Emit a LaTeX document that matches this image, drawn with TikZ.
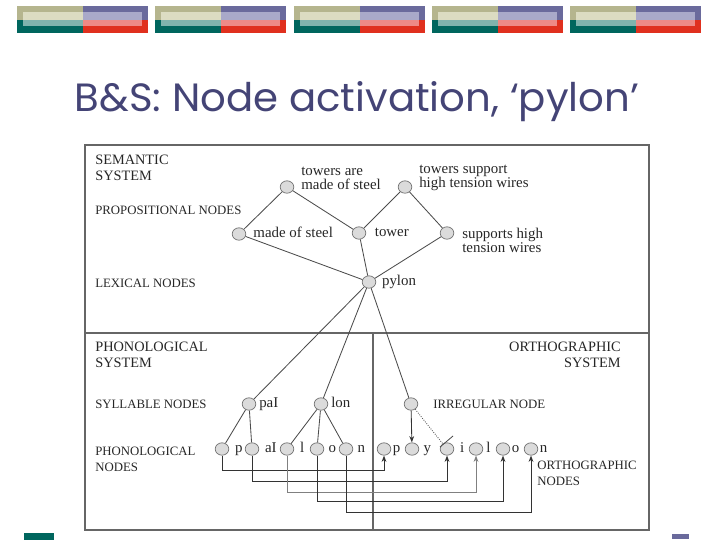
\documentclass[tikz,border=0pt]{standalone}
\usepackage{fontspec}
\setmainfont{Liberation Serif}
\newfontfamily\titlefont{Poppins}
\usepackage{tikz}
\usetikzlibrary{arrows.meta,shapes.geometric,positioning}
\definecolor{bnolive}{RGB}{181,181,142}
\definecolor{bncream}{RGB}{220,220,194}
\definecolor{bnteal}{RGB}{0,102,94}
\definecolor{bnlteal}{RGB}{128,179,173}
\definecolor{bnpurple}{RGB}{106,106,156}
\definecolor{bnlav}{RGB}{169,169,201}
\definecolor{bnred}{RGB}{224,48,30}
\definecolor{bnsalmon}{RGB}{238,138,134}
\definecolor{ttlblue}{RGB}{68,68,118}
\tikzset{
  pnode/.style={ellipse,draw=black!55,fill=black!14,line width=0.5pt,
    minimum width=0.34cm,minimum height=0.31cm,inner sep=0pt},
  labbase/.style={font=\fontsize{10.6}{10}\selectfont,anchor=west,inner sep=0pt,text=black!85},
  plab/.style={labbase,align=left},
  letlab/.style={labbase,text height=1.45ex,text depth=0.45ex},
  caplab/.style={font=\fontsize{9.1}{11.4}\selectfont,anchor=west,align=left,inner sep=0pt,text=black!85},
  syslab/.style={caplab,font=\fontsize{10.2}{11.4}\selectfont},
  link/.style={draw=black!70,line width=0.6pt},
  route/.style={draw=black!80,line width=0.6pt,-{Stealth[length=1.6mm,width=1.2mm]}},
  boxline/.style={draw=black!60,line width=0.8pt}}
\newcommand{\bnblock}[1]{%
  \fill[bnolive] (#1,6) rectangle ++(66,13.5);
  \fill[bnteal] (#1,19.5) rectangle ++(66,13.5);
  \fill[bnpurple] ({#1+66},6) rectangle ++(65,13.5);
  \fill[bnred] ({#1+66},19.5) rectangle ++(65,13.5);
  \fill[bncream] ({#1+6},12) rectangle ({#1+66},19.5);
  \fill[bnlteal] ({#1+6},19.5) rectangle ({#1+66},26);
  \fill[bnlav] ({#1+66},12) rectangle ({#1+125},19.5);
  \fill[bnsalmon] ({#1+66},19.5) rectangle ({#1+125},26);}
\begin{document}
\begin{tikzpicture}[x=0.025cm,y=-0.025cm]
  \useasboundingbox (0,0) rectangle (720,540);
  \foreach \bx in {17,155,294,432,570}{\bnblock{\bx}}
  \fill[bnteal] (24,533) rectangle (54,540);
  \fill[bnpurple] (672,534) rectangle (689,539);
  \node[anchor=base,inner sep=0pt,text=ttlblue] (title) at (357,111)
    {\resizebox{14.1cm}{0.75cm}{\titlefont B\&S: Node activation, ‘pylon’}};

  \draw[boxline] (85,145) rectangle (649,530);
  \draw[boxline] (85,333) -- (649,333);
  \draw[boxline] (373,333) -- (373,530);

  \node[syslab] (semsys) at (95,168) {SEMANTIC\\SYSTEM};
  \node[caplab] (propn) at (95,210) {PROPOSITIONAL NODES};
  \node[caplab] (lexn) at (95,283) {LEXICAL NODES};
  \node[syslab] (phonsys) at (95,355) {PHONOLOGICAL\\SYSTEM};
  \node[caplab] (sylln) at (95,404) {SYLLABLE NODES};
  \node[caplab] (phonn) at (95,459) {PHONOLOGICAL\\NODES};
  \node[syslab,anchor=east,align=right] (orthsys) at (621,355) {ORTHOGRAPHIC\\SYSTEM};
  \node[caplab] (orthn) at (537,473) {ORTHOGRAPHIC\\NODES};

  \node[pnode] (tmade) at (287,187) {};
  \node[pnode] (tsupp) at (405,187) {};
  \node[pnode] (mos) at (239,234) {};
  \node[pnode] (tower) at (359,233) {};
  \node[pnode] (supp) at (447,233) {};
  \node[pnode] (pylon) at (369,282) {};
  \node[plab] (l-tmade) at (301,178) {towers are\\made of steel};
  \node[plab] (l-tsupp) at (419,178) {towers support\\high tension wires};
  \node[letlab,right=5pt of mos] (l-mos) {made of steel};
  \node[letlab,right=6pt of tower] (l-tower) {tower};
  \node[plab] (l-supp) at (462,240) {supports high\\tension wires};
  \node[letlab,right=4pt of pylon] (l-pylon) {pylon};

  \node[pnode] (pai) at (249,404) {};
  \node[pnode] (lon) at (321,404) {};
  \node[pnode] (irr) at (411,404) {};
  \node[letlab,right=2pt of pai] (l-pai) {paI};
  \node[letlab,right=2pt of lon] (l-lon) {lon};
  \node[caplab] (l-irr) at (433,404) {IRREGULAR NODE};

  \node[pnode] (php) at (222,449) {};
  \node[pnode] (phai) at (252,449) {};
  \node[pnode] (phl) at (287,449) {};
  \node[pnode] (pho) at (317,449) {};
  \node[pnode] (phn) at (346,449) {};
  \node[letlab,right=4pt of php] (l-php) {p};
  \node[letlab,right=4pt of phai] (l-phai) {aI};
  \node[letlab,right=4pt of phl] (l-phl) {l};
  \node[letlab,right=3pt of pho] (l-pho) {o};
  \node[letlab,right=3pt of phn] (l-phn) {n};

  \node[pnode] (orp) at (384,449) {};
  \node[pnode] (ory) at (412,449) {};
  \node[pnode] (ori) at (447,449) {};
  \node[pnode] (orl) at (476,449) {};
  \node[pnode] (oro) at (503,449) {};
  \node[pnode] (orn) at (531,449) {};
  \node[letlab,right=1pt of orp] (l-orp) {p};
  \node[letlab,right=3pt of ory] (l-ory) {y};
  \node[letlab,right=4pt of ori] (l-ori) {i};
  \node[letlab,right=2pt of orl] (l-orl) {l};
  \node[letlab,right=1pt of oro] (l-oro) {o};
  \node[letlab,right=1pt of orn] (l-orn) {n};

  \draw[link] (tmade) -- (mos);
  \draw[link] (tmade) -- (tower);
  \draw[link] (tsupp) -- (tower);
  \draw[link] (tsupp) -- (supp);
  \draw[link] (mos) -- (pylon);
  \draw[link] (tower) -- (pylon);
  \draw[link] (supp) -- (pylon);
  \draw[link] (pylon) -- (pai);
  \draw[link] (pylon) -- (lon);
  \draw[link] (pylon) -- (irr);
  \draw[link] (pai) -- (php);
  \draw[link] (pai) -- (phai);
  \draw[link] (lon) -- (phl);
  \draw[link] (lon) -- (pho);
  \draw[link] (lon) -- (phn);

  \draw[route] (irr) -- (ory);
  \draw[link,densely dotted] (irr) -- (ori);
  \draw[link] (440,447) -- (453,436);

  \draw[route] (php.south) -- ++(0,14.5) -| (orp.south);
  \draw[route] (phai.south) -- ++(0,25.5) -| (ori.south);
  \draw[route,draw=black!50] (phl.south) -- ++(0,36.5) -| (orl.south);
  \draw[route] (pho.south) -- ++(0,45.5) -| (oro.south);
  \draw[route] (phn.south) -- ++(0,56.5) -| (orn.south);
\end{tikzpicture}
\end{document}
